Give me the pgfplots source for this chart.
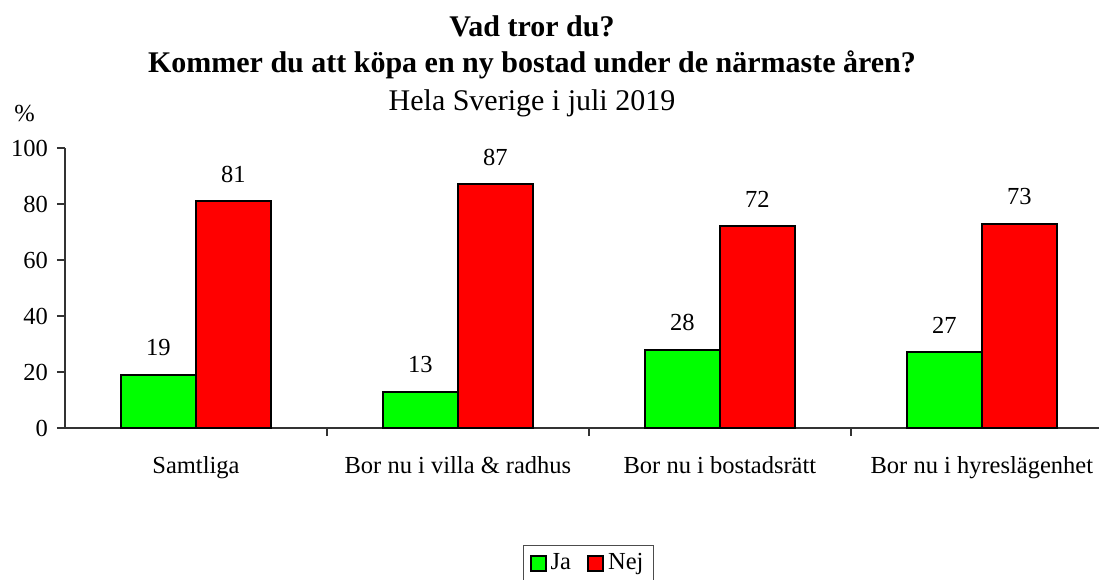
\documentclass[border=0pt]{standalone}
\usepackage{pgfplots}
\pgfplotsset{compat=1.18}
\usepackage{fontspec}
\setmainfont{Liberation Serif}
\newcommand\fs{\fontsize{12.25}{14}\selectfont}
\newcommand\ft{\fontsize{15}{18}\selectfont}
\begin{document}
\begin{tikzpicture}
\path[use as bounding box] (-32.5pt,-75.5pt) rectangle (517pt,214pt);
\begin{axis}[
  at={(0pt,0pt)}, anchor=south west,
  scale only axis, width=517pt, height=140pt,
  ybar=0pt, bar width=37.5pt,
  xmin=-0.5, xmax=3.447, ymin=0, ymax=100,
  axis x line=bottom, axis y line=left,
  axis line style={-, line width=0.6pt, black!80},
  ytick={0,20,...,100},
  xtick={0.5,1.5,2.5},
  xticklabels={},
  extra x ticks={0,1,2,3},
  extra x tick labels={Samtliga, Bor nu i villa \& radhus, Bor nu i bostadsrätt, Bor nu i hyreslägenhet},
  extra x tick style={major tick length=0pt, xticklabel style={anchor=base, yshift=-22.5pt}},
  tick align=outside,
  major tick length=4pt,
  tick style={line width=0.6pt, black!80},
  /pgf/number format/assume math mode=true,
  tick label style={font=\fs},
  yticklabel style={xshift=-1pt},
  nodes near coords,
  every node near coord/.append style={font=\fs, yshift=5.5pt},
  legend columns=2,
  legend style={at={(0.443,-0.418)}, anchor=north west, font=\fs,
    draw=black!70, line width=0.6pt, inner xsep=3pt, inner ysep=2pt,
    /tikz/every even column/.append style={column sep=6pt}},
  legend image code/.code={\draw[#1, line width=1pt] (0pt,-3.75pt) rectangle (7.5pt,3.75pt);},
]
\addplot[fill={rgb,255:red,0;green,255;blue,0}, draw=black, line width=1pt] coordinates {(0,19) (1,13) (2,28) (3,27)};
\addplot[fill={rgb,255:red,255;green,0;blue,0}, draw=black, line width=1pt] coordinates {(0,81) (1,87) (2,72) (3,73)};
\legend{Ja, Nej}
\end{axis}
\node[anchor=base, font=\ft\bfseries] at (233.5pt,195.5pt) {Vad tror du?};
\node[anchor=base, font=\ft\bfseries] at (233.5pt,177.5pt) {Kommer du att köpa en ny bostad under de närmaste åren?};
\node[anchor=base, font=\ft] at (233.5pt,158.5pt) {Hela Sverige i juli 2019};
\node[anchor=base west, font=\fs, inner sep=0pt] at (-25.5pt,153pt) {\%};
\end{tikzpicture}
\end{document}
